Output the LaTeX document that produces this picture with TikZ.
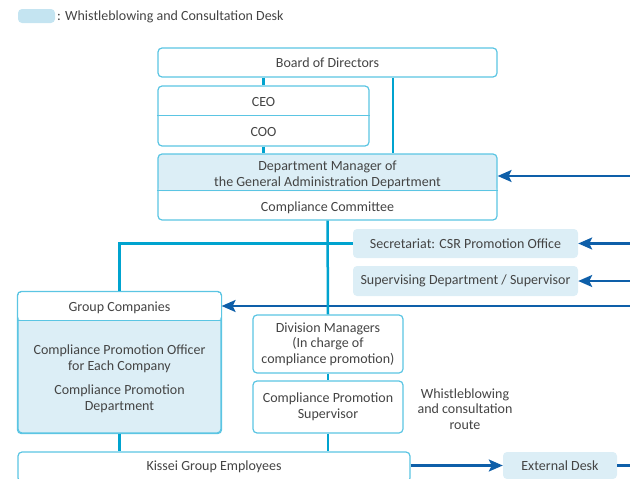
\documentclass[tikz,border=0pt]{standalone}
\usepackage{fontspec}
\setmainfont{Carlito}
\usepackage{xcolor}
\usepackage{tikz}
\usetikzlibrary{arrows.meta,calc,positioning}

\definecolor{deskfill}{HTML}{DCEEF6}
\definecolor{keyfill}{HTML}{C4E4F1}
\definecolor{boxline}{HTML}{5BC5E3}
\definecolor{linkcyan}{HTML}{00A3CF}
\definecolor{routeblue}{HTML}{0E5FA9}
\definecolor{textgray}{HTML}{444444}

\begin{document}
\begin{tikzpicture}[x=1pt,y=-1pt,font=\fontsize{14}{15.5}\selectfont,text=textgray]
\tikzset{box/.style = {draw=boxline,line width=1.2pt,fill=white,rounded corners=4pt,inner sep=0pt,align=center}}
\tikzset{desk/.style = {fill=deskfill,rounded corners=4pt,inner sep=0pt,align=center}}
\tikzset{txt/.style = {inner sep=0pt,align=center}}
\tikzset{link/.style = {draw=linkcyan,line width=2.5pt}}
\tikzset{route/.style = {draw=routeblue,line width=2.2pt,-{Stealth[length=14pt,width=12pt,inset=3pt]}}}
\tikzset{topshade/.style = {path picture={\fill[deskfill] (path picture bounding box.north west) rectangle ([yshift=-#1]path picture bounding box.north east);}}}
\useasboundingbox (0,0) rectangle (630,479);
% legend
\node[desk,fill=keyfill,minimum width=37,minimum height=14] (key) at (36.5,16) {};
\node[txt,anchor=west] (keytext) at (57,17) {: Whistleblowing and Consultation Desk};
% frames
\node[box,minimum width=339,minimum height=29] (board) at (327.5,62.5) {Board of Directors};
\node[box,minimum width=211,minimum height=60] (ceobox) at (263.5,116) {};
\node[box,topshade=37pt,minimum width=339,minimum height=66] (deptbox) at (327.5,187) {};
\node[desk,minimum width=225,minimum height=29] (secretariat) at (465.5,243.5) {Secretariat: CSR Promotion Office};
\node[desk,minimum width=225,minimum height=30] (supervising) at (465.5,281) {Supervising Department / Supervisor};
\node[box,fill=deskfill,minimum width=203,minimum height=141] (groupbox) at (119.5,362.5) {};
\node[box,minimum width=150,minimum height=58] (divmgr) at (328,344) {Division Managers\\(In charge of\\compliance promotion)};
\node[box,minimum width=150,minimum height=52] (cpsuper) at (328,407) {Compliance Promotion\\Supervisor};
\node[box,minimum width=392,minimum height=30] (employees) at (214,467) {Kissei Group Employees};
\node[desk,minimum width=114,minimum height=27] (extdesk) at (560,465.5) {External Desk};
% dividers and texts
\draw[boxline,line width=1.2pt] ([yshift=-30pt]ceobox.north west) -- ([yshift=-30pt]ceobox.north east);
\draw[boxline,line width=1.2pt] ([yshift=-37pt]deptbox.north west) -- ([yshift=-37pt]deptbox.north east);
\fill[white] ([xshift=0.6pt,yshift=-0.6pt]groupbox.north west) [rounded corners=4pt] rectangle ([xshift=-0.6pt,yshift=-29pt]groupbox.north east);
\draw[boxline,line width=1.2pt,rounded corners=4pt] (groupbox.north west) rectangle (groupbox.south east);
\draw[boxline,line width=1.2pt] ([yshift=-29pt]groupbox.north west) -- ([yshift=-29pt]groupbox.north east);
\node[txt] (ceo) at (263.5,102) {CEO};
\node[txt] (coo) at (263.5,132) {COO};
\node[txt] (deptmgr) at (327.5,175) {Department Manager of\\the General Administration Department};
\node[txt] (committee) at (327.5,207.5) {Compliance Committee};
\node[txt] (groupco) at (119.5,307.5) {Group Companies};
\node[txt] (officer) at (119.5,359) {Compliance Promotion Officer\\for Each Company};
\node[txt] (promodept) at (119.5,399) {Compliance Promotion\\Department};
\node[txt] (routetext) at (465,409) {Whistleblowing\\and consultation\\route};
% free ends at the right edge
\coordinate (r1) at (630,176);
\coordinate (r2) at (630,243.5);
\coordinate (r3) at (630,281);
\coordinate (r4) at (630,306);
\coordinate (r5) at (630,465.5);
\coordinate (bx) at (393,0);
% whistleblowing routes
\draw[route] (r1) -- (r1 -| deptbox.east);
\draw[route] (r2) -- (secretariat.east);
\draw[route] (r3) -- (supervising.east);
\draw[route] (r4) -- (r4 -| groupbox.east);
\draw[route] (employees.east |- extdesk.west) -- (extdesk.west);
\draw[routeblue,line width=2.2pt] (extdesk.east) -- (r5);
% reporting lines
\draw[link] (ceobox.north |- board.south) -- (ceobox.north);
\draw[link] (board.south -| bx) -- (deptbox.north -| bx);
\draw[link] (ceobox.south) -- (deptbox.north -| ceobox.south);
\draw[link] (deptbox.south) -- (divmgr.north);
\draw[link] (secretariat.west) -| (groupbox.north);
\draw[link] (divmgr.south) -- (cpsuper.north);
\draw[link] (cpsuper.south) -- (employees.north -| cpsuper.south);
\draw[link] (groupbox.south) -- (employees.north -| groupbox.south);
\end{tikzpicture}
\end{document}
